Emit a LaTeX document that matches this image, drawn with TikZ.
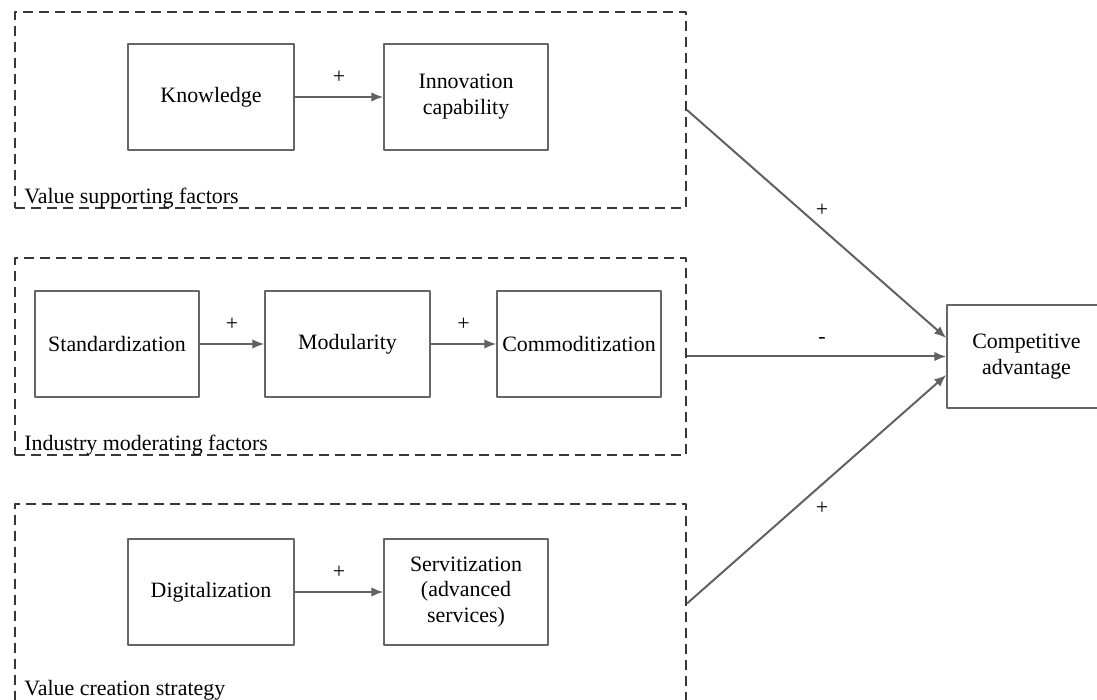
\documentclass[tikz,border=0pt]{standalone}
\usepackage{fontspec}
\setmainfont{Liberation Serif}
\usetikzlibrary{arrows,arrows.meta,shapes}
\definecolor{boxgray}{rgb}{0.40,0.40,0.40}
\definecolor{dashgray}{rgb}{0.22,0.22,0.22}
\definecolor{arrowgray}{rgb}{0.38,0.38,0.38}

\begin{document}
\begin{tikzpicture}[>={Latex[length=6bp,width=4.8bp]},line join=bevel,
  every node/.style={font=\fontsize{11}{13}\selectfont},
  factor/.style={draw=boxgray,line width=0.75bp,minimum width=82bp,minimum height=53bp,align=center,inner sep=1bp},
  group/.style={draw=dashgray,line width=1bp,dash pattern=on 5bp off 3bp,minimum width=335.5bp,inner sep=0pt},
  grouplabel/.style={anchor=base west,inner sep=0pt},
  link/.style={->,draw=arrowgray,line width=1bp},
  sign/.style={inner sep=0pt}]
\useasboundingbox (0bp,0bp) rectangle (548.5bp,350bp);
\clip (0bp,0bp) rectangle (548.5bp,350bp);

% Group: Value supporting factors
\node[group,minimum height=98bp] (grp1) at (175.25bp,295bp) {};
\node[grouplabel] (lab1) at ([xshift=5bp,yshift=2.5bp]grp1.south west) {Value supporting factors};

% Group: Industry moderating factors
\node[group,minimum height=98.5bp] (grp2) at (175.25bp,171.75bp) {};
\node[grouplabel] (lab2) at ([xshift=5bp,yshift=2.5bp]grp2.south west) {Industry moderating factors};

% Group: Value creation strategy
\node[group,minimum height=99.5bp] (grp3) at (175.25bp,48.25bp) {};
\node[grouplabel] (lab3) at ([xshift=5bp,yshift=4.5bp]grp3.south west) {Value creation strategy};

% Node: knowledge
\node[factor,minimum width=83bp] (know) at (105.5bp,301.5bp) {Knowledge};

% Node: innovation
\node[factor] (innov) at (233bp,301.5bp) {Innovation\\capability};

% Node: standardization
\node[factor] (stand) at (58.5bp,178bp) {Standardization};

% Node: modularity
\node[factor,minimum width=82.5bp] (modul) at (173.75bp,178bp) {Modularity};

% Node: commoditization
\node[factor] (commod) at (289.5bp,178bp) {Commoditization};

% Node: digitalization
\node[factor,minimum width=83bp] (digit) at (105.5bp,54bp) {Digitalization};

% Node: servitization
\node[factor] (servit) at (233bp,54bp) {Servitization\\(advanced\\services)};

% Node: advantage
\node[factor,minimum width=79.5bp,minimum height=51.5bp] (adv) at (513.25bp,171.75bp) {Competitive\\advantage};

% Edge: knowledge -> innovation
\draw[link] (know) -- node[sign,above=6bp] (plus1) {+} (innov);

% Edge: standardization -> modularity
\draw[link] (stand) -- node[sign,above=6bp] (plus2) {+} (modul);

% Edge: modularity -> commoditization
\draw[link] (modul) -- node[sign,above=6bp] (plus3) {+} (commod);

% Edge: digitalization -> servitization
\draw[link] (digit) -- node[sign,above=6bp] (plus4) {+} (servit);

% Edge: groups -> advantage
\draw[link] (grp1.east) -- ([yshift=9.25bp]adv.west);
\draw[link] (grp2.east) -- (grp2.east -| adv.west);
\draw[link] (grp3.east) -- ([yshift=-9.25bp]adv.west);

% Signs on the outer edges
\node[sign] (sgn1) at (411bp,245bp) {+};
\node[sign] (sgn2) at (411bp,179.5bp) {-};
\node[sign] (sgn3) at (411bp,96bp) {+};

\end{tikzpicture}
\end{document}
